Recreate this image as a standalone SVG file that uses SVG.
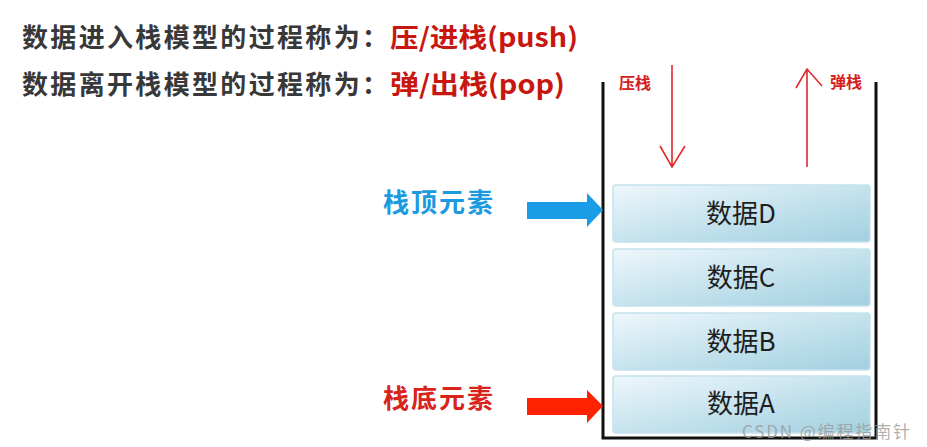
<svg xmlns="http://www.w3.org/2000/svg" width="927" height="447" viewBox="0 0 927 447">
<style>
.h{font-family:"Noto Sans CJK SC","Liberation Sans",sans-serif;font-weight:bold;font-size:26px}
.dk{fill:#383838}
.rd{fill:#c8170f}
.lbl{font-family:"Noto Sans CJK SC","Liberation Sans",sans-serif;font-weight:bold;font-size:26px}
.small{font-family:"Noto Sans CJK SC",sans-serif;font-weight:bold;font-size:16px;fill:#d42020}
.box{fill:url(#g);stroke:#c4e2ee;stroke-width:1.5}
.bt{font-family:"Noto Sans CJK SC","Liberation Sans",sans-serif;font-size:26px;fill:#1e1e1e;text-anchor:middle}
.thin{stroke:#e0282a;stroke-width:1.6;fill:none}
</style>
<defs>
<linearGradient id="g" x1="0" y1="0" x2="1" y2="1">
<stop offset="0" stop-color="#eef7fb"/>
<stop offset="0.5" stop-color="#c6e3ee"/>
<stop offset="1" stop-color="#a2cfe0"/>
</linearGradient>
</defs>
<rect width="927" height="447" fill="#fff"/>
<g id="title">
<text class="h dk" x="22" y="47" textLength="366" lengthAdjust="spacing">数据进入栈模型的过程称为：</text>
<text class="h rd" x="390" y="47" textLength="188" lengthAdjust="spacingAndGlyphs">压/进栈(push)</text>
<text class="h dk" x="22" y="94" textLength="366" lengthAdjust="spacing">数据离开栈模型的过程称为：</text>
<text class="h rd" x="390" y="94" textLength="175" lengthAdjust="spacingAndGlyphs">弹/出栈(pop)</text>
</g>
<g id="container">
<path d="M603 82 V438 H876 V82" fill="none" stroke="#111" stroke-width="3"/>
</g>
<g id="nodeD"><rect class="box" x="613" y="185" width="257" height="57" rx="3"/><text class="bt" x="741" y="223">数据D</text></g>
<g id="nodeC"><rect class="box" x="613" y="249" width="257" height="57" rx="3"/><text class="bt" x="741" y="287">数据C</text></g>
<g id="nodeB"><rect class="box" x="613" y="313" width="257" height="57" rx="3"/><text class="bt" x="741" y="351">数据B</text></g>
<g id="nodeA"><rect class="box" x="613" y="376" width="257" height="57" rx="3"/><text class="bt" x="741" y="413">数据A</text></g>
<g id="labels">
<text class="lbl" x="383" y="212" fill="#1b9ae0" textLength="110" lengthAdjust="spacing">栈顶元素</text>
<text class="lbl" x="383" y="408" fill="#d8241a" textLength="110" lengthAdjust="spacing">栈底元素</text>
<text class="small" x="619" y="89">压栈</text>
<text class="small" x="830" y="88">弹栈</text>
</g>
<g id="connectors">
<polygon points="527,202 587,202 587,193 603,210 587,227 587,219 527,219" fill="#1a9de6"/>
<polygon points="527,398 587,398 587,390 603,406 587,423 587,415 527,415" fill="#ff2200"/>
<path class="thin" d="M672 65 V167 M660 146 L672 167 L685 146"/>
<path class="thin" d="M807 167 V69 M796 88 L807 69 L822 86"/>
</g>
<text x="742" y="438" font-family="'Noto Sans CJK SC','Liberation Sans',sans-serif" font-size="17" fill="#9a9a9a" fill-opacity="0.8" textLength="168" lengthAdjust="spacing">CSDN @编程指南针</text>
</svg>
